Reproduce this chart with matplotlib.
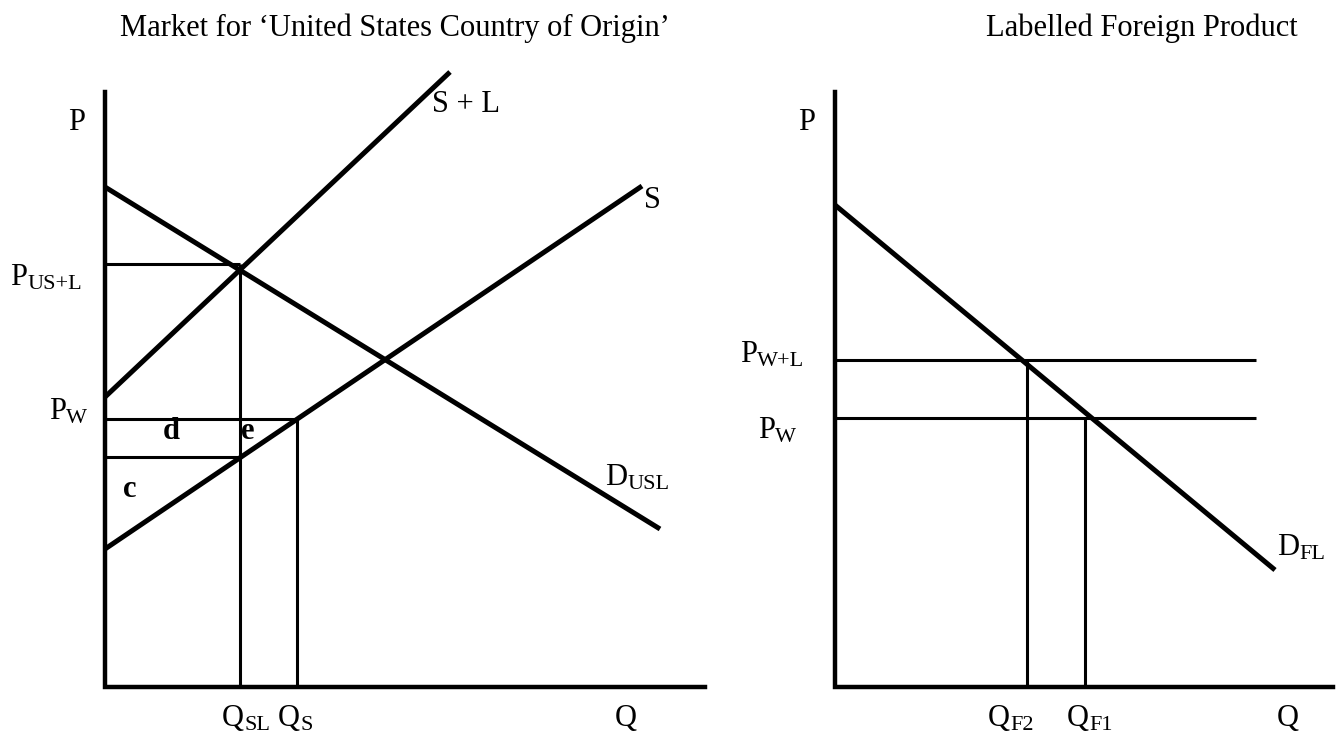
import matplotlib
matplotlib.use("Agg")
import matplotlib.pyplot as plt

plt.rcParams['font.family'] = ['Liberation Serif', 'DejaVu Serif']

# left panel: market for US country-of-origin labelled product
left_axes_x = [105, 105, 705]
left_axes_y = [92, 687, 687]
demand_usl = [(105, 187), (660, 529)]
supply_l = [(105, 397), (450, 72)]
supply = [(105, 549), (642, 186)]
guides_left = [
    [(105, 264), (240, 264)],
    [(240, 264), (240, 687)],
    [(105, 419), (297, 419)],
    [(297, 419), (297, 687)],
    [(105, 457), (240, 457)],
]

# right panel: foreign labelled product
right_axes_x = [835, 835, 1333]
right_axes_y = [92, 687, 687]
demand_fl = [(835, 205), (1275, 570)]
guides_right = [
    [(835, 360), (1256, 360)],
    [(835, 418), (1256, 418)],
    [(1027, 360), (1027, 687)],
    [(1085, 418), (1085, 687)],
]

# labels: (x, baseline y, main, subscript, bold)
labels = [
    (68, 130, "P", "", False),
    (10, 285, "P", "US+L", False),
    (49, 419, "P", "W", False),
    (163, 439, "d", "", True),
    (241, 439, "e", "", True),
    (123, 497, "c", "", True),
    (432, 112, "S + L", "", False),
    (644, 208, "S", "", False),
    (605, 485, "D", "USL", False),
    (222, 726, "Q", "SL", False),
    (278, 726, "Q", "S", False),
    (615, 726, "Q", "", False),
    (798, 130, "P", "", False),
    (740, 362, "P", "W+L", False),
    (758, 438, "P", "W", False),
    (1277, 555, "D", "FL", False),
    (988, 726, "Q", "F2", False),
    (1067, 726, "Q", "F1", False),
    (1277, 726, "Q", "", False),
]

titles = [
    (120, 36, "Market for \u2018United States Country of Origin\u2019"),
    (986, 36, "Labelled Foreign Product"),
]

fig = plt.figure(figsize=(13.36, 7.4), dpi=100)
ax = fig.add_axes([0, 0, 1, 1])
ax.set_xlim(0, 1336)
ax.set_ylim(740, 0)
ax.axis('off')

ax.plot(left_axes_x, left_axes_y, color='black', lw=3.2, solid_joinstyle='miter')
ax.plot(right_axes_x, right_axes_y, color='black', lw=3.2, solid_joinstyle='miter')

for seg in [demand_usl, supply_l, supply, demand_fl]:
    xs, ys = zip(*seg)
    ax.plot(xs, ys, color='black', lw=3.6, solid_capstyle='butt')

for seg in guides_left + guides_right:
    xs, ys = zip(*seg)
    ax.plot(xs, ys, color='black', lw=2.2, solid_capstyle='butt')

for x, y, main, sub, bold in labels:
    t = ax.text(x, y, main, fontsize=22, ha='left', va='baseline',
                fontweight='bold' if bold else 'normal')
    if sub:
        ax.annotate(sub, xy=(1, 0), xycoords=t, xytext=(0, -1.5),
                    textcoords='offset points', fontsize=16,
                    ha='left', va='bottom')

for x, y, s in titles:
    ax.text(x, y, s, fontsize=22, ha='left', va='baseline')

fig.savefig("out.png", dpi=100)
